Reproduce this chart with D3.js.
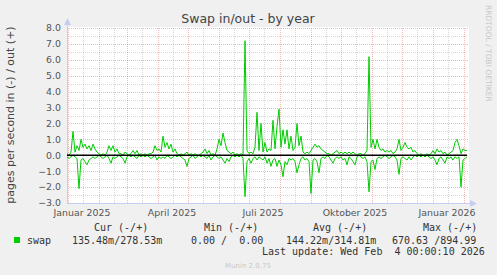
<!DOCTYPE html>
<html>
<head>
<meta charset="utf-8">
<script src="https://cdn.jsdelivr.net/npm/d3@7"></script>
<style>
  body { margin: 0; background: #f0f0f0; }
  svg { display: block; font-family: "DejaVu Sans", sans-serif; }
  .mono { font-family: "DejaVu Sans Mono", monospace; font-size: 10px; fill: #333; white-space: pre; }
</style>
</head>
<body>
<svg id="chart" width="497" height="275"></svg>
<script>
// ---- data (one reading every 2 days, starting 31 Dec 2024) ----
var startDate = new Date(Date.UTC(2024, 11, 31));
var endDate = new Date(Date.UTC(2026, 1, 4));
var stepDays = 2;

// swap out, pages/s (drawn above zero)
var swapOut = [
  0.1, 0.0, 0.2, 1.5, 0.2, 0.6, 0.3, 1.0, 0.5, 0.7, 0.4, 0.6, 0.3, 0.7, 0.4, 0.2, 0.1, 0.0, 0.1, 0.0,
  0.2, 0.6, 0.3, 0.6, 0.2, 0.4, 0.1, 0.1, 0.0, 0.2, 0.1, 0.0, 0.1, 0.3, 0.1, 0.3, 0.0, 0.1, 0.0, 0.1,
  0.0, 0.1, 0.1, 0.2, 0.6, 0.3, 0.4, 0.2, 1.2, 0.5, 0.8, 0.4, 0.7, 0.2, 0.4, 0.1, 0.0, 0.1, 0.0, 0.1,
  0.2, 0.0, 0.1, 0.0, 0.1, 0.0, 0.0, 0.1, 0.2, 0.4, 0.1, 0.3, 0.0, 0.1, 0.0, 0.4, 1.0, 0.6, 1.4, 0.8,
  0.3, 0.2, 0.1, 0.2, 0.0, 0.1, 0.0, 0.1, 0.0, 7.2, 0.3, 0.1, 0.2, 0.1, 0.5, 2.7, 0.3, 2.0, 0.2, 0.8,
  0.2, 0.4, 0.3, 2.2, 0.4, 1.8, 2.9, 0.5, 1.6, 0.7, 1.6, 0.4, 1.2, 0.3, 0.5, 2.0, 0.6, 1.2, 0.2, 0.1,
  0.2, 0.1, 0.3, 0.5, 0.7, 0.5, 0.6, 0.4, 0.3, 0.2, 0.1, 0.1, 0.0, 0.1, 0.2, 0.3, 0.1, 0.2, 0.1, 0.2,
  0.1, 0.2, 0.1, 0.2, 0.1, 0.0, 0.1, 0.1, 0.0, 0.1, 0.3, 6.2, 0.5, 1.0, 0.4, 1.0, 0.5, 0.3, 0.4, 0.2,
  0.3, 0.2, 0.3, 0.1, 0.2, 0.4, 1.0, 0.3, 0.5, 0.8, 0.5, 0.4, 0.5, 0.2, 0.3, 0.1, 0.0, 0.1, 0.0, 0.0,
  0.1, 0.0, 0.1, 0.3, 0.1, 0.4, 0.2, 0.3, 0.1, 0.2, 0.0, 0.1, 0.2, 0.3, 0.8, 1.0, 0.6, 0.1, 0.4, 0.3,
  0.3
];

// swap in, pages/s (drawn below zero)
var swapIn = [
  0.1, 0.2, 0.1, 0.0, 0.1, 0.2, 2.1, 0.3, 0.2, 0.4, 0.6, 0.3, 0.2, 0.1, 0.2, 0.1, 0.0, 0.1, 0.2, 0.1,
  0.0, 0.2, 0.5, 0.1, 0.2, 0.1, 0.0, 0.1, 0.2, 0.5, 0.1, 0.0, 0.1, 0.0, 0.1, 0.2, 0.0, 0.1, 0.0, 0.1,
  0.0, 0.1, 0.2, 0.1, 0.0, 0.3, 0.1, 0.2, 0.1, 0.2, 0.0, 0.1, 0.2, 0.1, 0.0, 0.1, 0.0, 0.1, 0.2, 0.3,
  0.7, 0.2, 0.1, 0.0, 0.2, 0.1, 0.0, 0.1, 0.0, 0.1, 0.2, 0.0, 0.3, 0.1, 0.0, 0.1, 0.2, 0.1, 0.3, 0.5,
  0.2, 0.4, 0.1, 0.0, 0.1, 0.0, 0.1, 0.0, 0.2, 2.6, 0.4, 0.2, 0.5, 0.2, 0.1, 0.3, 0.1, 0.2, 0.3, 0.1,
  0.5, 0.2, 0.7, 0.3, 0.2, 0.7, 0.3, 0.6, 1.35, 0.4, 0.6, 0.2, 0.3, 0.2, 0.4, 1.1, 0.6, 0.2, 0.1, 0.3,
  0.2, 0.4, 2.4, 0.3, 0.2, 0.4, 1.1, 0.2, 0.1, 0.2, 0.0, 0.1, 0.3, 0.5, 0.2, 0.1, 0.2, 0.1, 0.3, 0.2,
  0.6, 0.1, 0.2, 0.4, 0.6, 0.1, 0.0, 0.1, 0.2, 0.1, 0.4, 2.3, 0.4, 0.3, 0.9, 0.2, 0.1, 0.2, 0.1, 0.0,
  0.1, 0.2, 0.1, 0.0, 0.1, 0.3, 1.2, 0.2, 0.1, 0.2, 0.3, 0.1, 0.3, 0.1, 0.0, 0.1, 0.0, 0.1, 0.0, 0.1,
  0.0, 0.1, 0.2, 0.1, 0.3, 0.6, 0.2, 0.1, 0.3, 0.5, 0.1, 0.2, 0.1, 0.3, 0.1, 0.2, 0.1, 2.0, 0.3, 0.2,
  0.1
];

var yTicks = [8, 7, 6, 5, 4, 3, 2, 1, 0, -1, -2, -3];
var quarterLabels = ["Januar 2025", "April 2025", "Juli 2025", "Oktober 2025", "Januar 2026"];
var quarterStarts = [[2025, 0], [2025, 3], [2025, 6], [2025, 9], [2026, 0]];
var legendHeads = ["Cur (-/+)", "Min (-/+)", "Avg (-/+)", "Max (-/+)"];
var legendVals = ["135.48m/278.53m", "0.00 /  0.00", "144.22m/314.81m", "670.63 /894.99"];
var seriesName = "swap";
var lastUpdate = "Last update: Wed Feb  4 00:00:10 2026";

// ---- drawing ----
var svg = d3.select("#chart");
var plotL = 67, plotR = 467, plotT = 28, plotB = 203;

var x = d3.scaleUtc().domain([startDate, endDate]).range([plotL, plotR]);
var y = d3.scaleLinear().domain([-3, 8]).range([plotB, plotT]);

var toPoints = function(arr, sign) {
  return arr.map(function(v, i) {
    return { date: d3.utcDay.offset(startDate, i * stepDays), v: sign * v };
  });
};

// white canvas
svg.append("rect").attr("x", plotL).attr("y", plotT - 1)
  .attr("width", plotR - plotL + 2).attr("height", plotB - plotT + 1).attr("fill", "#fff");

var grid = svg.append("g").attr("shape-rendering", "crispEdges");
var minorCol = "rgba(150,150,150,0.4)", majorCol = "rgba(225,70,70,0.38)";

// minor horizontal (half units)
d3.range(-2.5, 8, 1).forEach(function(v) {
  var yy = Math.round(y(v)) + 0.5;
  grid.append("line").attr("x1", plotL).attr("x2", plotR)
    .attr("y1", yy).attr("y2", yy)
    .attr("stroke", minorCol).attr("stroke-dasharray", "1,1");
});

// minor vertical (mid month)
d3.utcMonth.range(startDate, endDate).forEach(function(m) {
  var d = d3.utcDay.offset(m, 15);
  if (d < endDate) {
    var xx = Math.round(x(d)) + 0.5;
    grid.append("line").attr("x1", xx).attr("x2", xx)
      .attr("y1", plotT).attr("y2", plotB)
      .attr("stroke", minorCol).attr("stroke-dasharray", "1,1");
  }
});

// major vertical (month starts)
d3.utcMonth.range(d3.utcDay.offset(startDate, 1), endDate).forEach(function(m) {
  var xx = Math.round(x(m)) + 0.5;
  grid.append("line").attr("x1", xx).attr("x2", xx)
    .attr("y1", plotT).attr("y2", plotB)
    .attr("stroke", majorCol).attr("stroke-dasharray", "1,1");
});

// major horizontal + tick labels
yTicks.forEach(function(v) {
  var yy = Math.round(y(v)) + 0.5;
  grid.append("line").attr("x1", plotL).attr("x2", plotR + 2)
    .attr("y1", yy).attr("y2", yy)
    .attr("stroke", majorCol).attr("stroke-dasharray", "1,1");
  svg.append("text").attr("x", 61).attr("y", y(v) + 3.4)
    .attr("text-anchor", "end").attr("font-size", "9.4px").attr("fill", "#555")
    .text(d3.format(".1f")(v));
});

// x labels, centered half a month after the quarter start
quarterStarts.forEach(function(q, i) {
  var d = d3.utcDay.offset(new Date(Date.UTC(q[0], q[1], 1)), 15);
  svg.append("text").attr("x", x(d) - 1).attr("y", 216)
    .attr("text-anchor", "middle").attr("font-size", "9.4px").attr("fill", "#555")
    .text(quarterLabels[i]);
});

// axes
var axisColor = "#c8ccf2";
svg.append("line").attr("x1", plotL + 0.5).attr("x2", plotL + 0.5).attr("y1", plotB).attr("y2", plotT - 4)
  .attr("stroke", axisColor);
svg.append("line").attr("x1", plotL).attr("x2", plotR + 4).attr("y1", plotB + 0.5).attr("y2", plotB + 0.5)
  .attr("stroke", axisColor);
svg.append("path").attr("d", "M" + (plotL - 3) + "," + (plotT - 3) + "L" + (plotL + 4) + "," + (plotT - 3) + "L" + (plotL + 0.5) + "," + (plotT - 10) + "Z")
  .attr("fill", axisColor);
svg.append("path").attr("d", "M" + (plotR + 3) + "," + (plotB - 3) + "L" + (plotR + 3) + "," + (plotB + 4) + "L" + (plotR + 10) + "," + (plotB + 0.5) + "Z")
  .attr("fill", axisColor);

// series
var line = d3.line().x(function(d) { return x(d.date); }).y(function(d) { return y(d.v); });
svg.append("path").datum(toPoints(swapIn, -1)).attr("d", line)
  .attr("fill", "none").attr("stroke", "#00cc00").attr("stroke-width", 1);
svg.append("path").datum(toPoints(swapOut, 1)).attr("d", line)
  .attr("fill", "none").attr("stroke", "#00cc00").attr("stroke-width", 1);

// zero line
svg.append("line").attr("x1", plotL).attr("x2", plotR).attr("y1", y(0)).attr("y2", y(0))
  .attr("stroke", "#000").attr("stroke-width", 1.6);

// title and labels
svg.append("text").attr("x", 248).attr("y", 23).attr("text-anchor", "middle")
  .attr("font-size", "12.5px").attr("fill", "#444").text("Swap in/out - by year");
svg.append("text").attr("transform", "translate(14,115) rotate(-90)").attr("text-anchor", "middle")
  .attr("font-size", "11px").attr("fill", "#444").text("pages per second in (-) / out (+)");
svg.append("text").attr("transform", "translate(486,5) rotate(90)")
  .attr("font-size", "7.5px").attr("fill", "#c8c8c8").text("RRDTOOL / TOBI OETIKER");

// legend
var headX = [94, 204, 313, 423];
legendHeads.forEach(function(h, i) {
  svg.append("text").attr("class", "mono").attr("x", headX[i]).attr("y", 231).text(h);
});
svg.append("rect").attr("x", 14).attr("y", 237).attr("width", 6).attr("height", 6).attr("fill", "#00cc00");
svg.append("text").attr("class", "mono").attr("x", 27).attr("y", 243.5).text(seriesName);
var valX = [72, 191, 286, 392];
legendVals.forEach(function(v, i) {
  svg.append("text").attr("class", "mono").attr("x", valX[i]).attr("y", 243.5).text(v);
});
svg.append("text").attr("class", "mono").attr("x", 262).attr("y", 254.5).text(lastUpdate);
svg.append("text").attr("x", 248).attr("y", 268).attr("text-anchor", "middle")
  .attr("font-size", "7px").attr("fill", "#c8c8c8").text("Munin 2.0.75");
</script>
</body>
</html>
